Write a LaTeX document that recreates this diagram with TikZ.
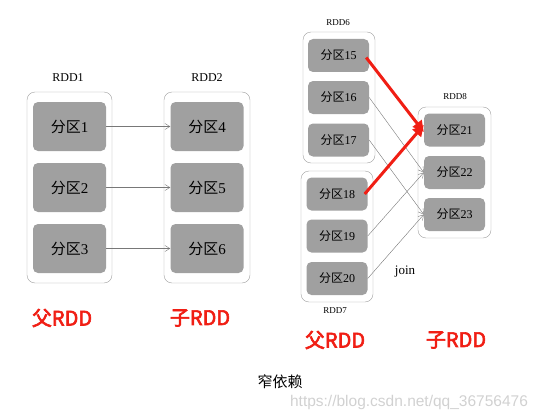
\documentclass[tikz,border=0pt]{standalone}
\usepackage{fontspec}
\setmainfont{Liberation Serif}
\newfontfamily\cjk{Noto Sans CJK SC}
\newfontfamily\cjkb[FakeBold=3]{Noto Sans CJK SC}
\usetikzlibrary{arrows.meta}
\definecolor{boxgray}{RGB}{160,160,160}
\definecolor{linegray}{RGB}{120,120,120}
\definecolor{hotred}{RGB}{240,30,20}
\tikzset{
  part/.style={fill=boxgray, rounded corners=5pt, inner sep=0pt, font=\fontsize{15}{15}\selectfont},
  smallpart/.style={part, minimum width=61pt, minimum height=33pt, font=\fontsize{12}{12}\selectfont},
  bigpart/.style={part, minimum width=73pt, minimum height=49pt},
  group/.style={draw=boxgray, rounded corners=8pt, inner sep=0pt},
  dep/.style={draw=linegray, -{Straight Barb[length=5pt,width=6pt]}},
  wide/.style={draw=hotred, line width=3pt, -{Triangle[length=11pt,width=11pt]}},
  parentlabel/.style={text=hotred, font=\fontsize{20}{20}\cjkb\selectfont}
}
\begin{document}
\begin{tikzpicture}[x=1pt, y=-1pt]
      \useasboundingbox (0,0) rectangle (538,420);

      % RDD1 -> RDD2
      \node[group, minimum width=85pt, minimum height=191pt] (rdd1) at (69.5,187.5) {};
      \node[group, minimum width=86pt, minimum height=191pt] (rdd2) at (207,187.5) {};
      \node[font=\fontsize{12}{12}\selectfont] (t1) at (68,78) {RDD1};
      \node[font=\fontsize{12}{12}\selectfont] (t2) at (207,78) {RDD2};
      \node[bigpart] (b1) at (69.5,126.5) {{\cjk 分区}1};
      \node[bigpart] (b2) at (69.5,187.5) {{\cjk 分区}2};
      \node[bigpart] (b3) at (69.5,248.5) {{\cjk 分区}3};
      \node[bigpart] (b4) at (207,126.5) {{\cjk 分区}4};
      \node[bigpart] (b5) at (207,187.5) {{\cjk 分区}5};
      \node[bigpart] (b6) at (207,248.5) {{\cjk 分区}6};
      \draw[dep] (b1) -- (b4);
      \draw[dep] (b2) -- (b5);
      \draw[dep] (b3) -- (b6);

      % RDD6, RDD7 -> RDD8 (join)
      \node[group, minimum width=72pt, minimum height=131pt] (rdd6) at (339,97.5) {};
      \node[group, minimum width=72pt, minimum height=131pt] (rdd7) at (337,236.5) {};
      \node[group, minimum width=73pt, minimum height=131pt] (rdd8) at (454.5,172.5) {};
      \node[font=\fontsize{9}{9}\selectfont] (t6) at (338,23) {RDD6};
      \node[font=\fontsize{9}{9}\selectfont] (t7) at (335,311) {RDD7};
      \node[font=\fontsize{9}{9}\selectfont] (t8) at (455,97) {RDD8};
      \node[smallpart] (b15) at (338.5,55.5) {{\cjk 分区}15};
      \node[smallpart] (b16) at (338.5,97.5) {{\cjk 分区}16};
      \node[smallpart] (b17) at (338.5,140) {{\cjk 分区}17};
      \node[smallpart] (b18) at (337,194) {{\cjk 分区}18};
      \node[smallpart] (b19) at (337,236) {{\cjk 分区}19};
      \node[smallpart] (b20) at (337,278.5) {{\cjk 分区}20};
      \node[smallpart] (b21) at (454.5,130) {{\cjk 分区}21};
      \node[smallpart] (b22) at (454.5,172.5) {{\cjk 分区}22};
      \node[smallpart] (b23) at (454.5,214.5) {{\cjk 分区}23};
      \draw[dep] (b16.east) -- (b22.west);
      \draw[dep] (b17.east) -- (b23.west);
      \draw[dep] (b19.east) -- (b22.west);
      \draw[dep] (b20.east) -- (b23.west);
      \draw[wide] ([xshift=-3pt,yshift=-2pt]b15.east) -- ([yshift=-2pt]b21.west);
      \draw[wide] ([xshift=-3pt]b18.east) -- ([yshift=5pt]b21.west);
      \node[font=\fontsize{13}{13}\selectfont] (join) at (405,272) {join};

      % labels
      \node[parentlabel] (p1) at (62,318) {父RDD};
      \node[parentlabel] (c1) at (200,318) {子RDD};
      \node[parentlabel] (p2) at (335,340) {父RDD};
      \node[parentlabel] (c2) at (456,340) {子RDD};
      \node[font=\fontsize{15}{15}\cjk\selectfont] (title) at (280,382) {窄依赖};
      \node[text=black!18, font=\fontsize{15.5}{15.5}\fontspec{Liberation Sans}\selectfont] (mark) at (409,402) {https://blog.csdn.net/qq\_36756476};
    \end{tikzpicture}
\end{document}
